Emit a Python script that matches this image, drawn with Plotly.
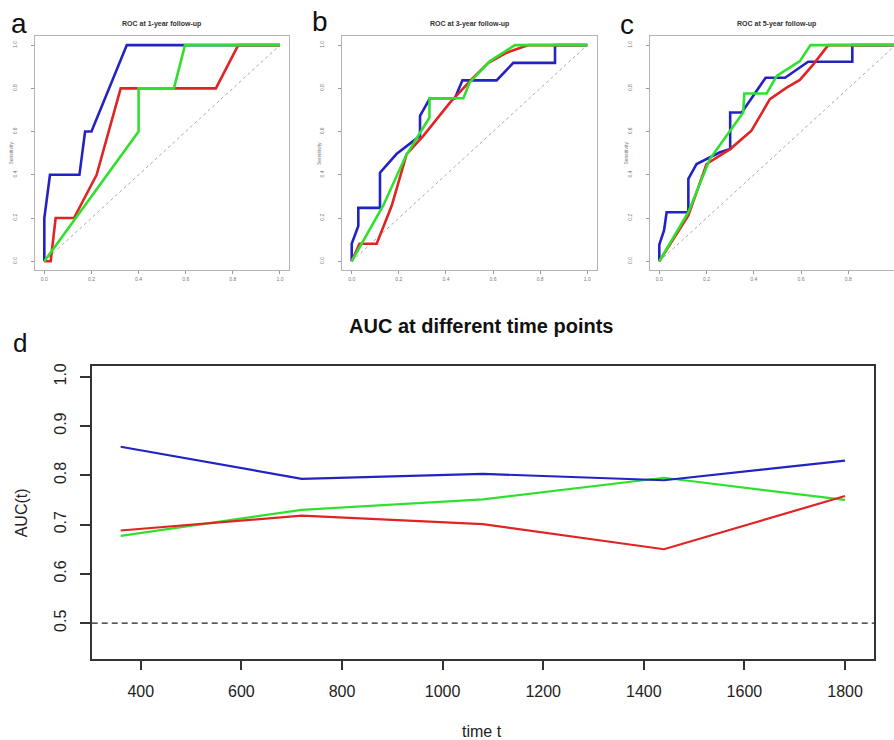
import plotly.graph_objects as go

W, H = 894, 740

# ---------------- data ----------------
roc_titles = ["ROC at 1-year follow-up", "ROC at 3-year follow-up", "ROC at 5-year follow-up"]
panel_letters = ["a", "b", "c", "d"]
roc_tickvals = [0.0, 0.2, 0.4, 0.6, 0.8, 1.0]
roc_ticktext = ["0.0", "0.2", "0.4", "0.6", "0.8", "1.0"]

# Panel a (1-year)
a_blue_x = [0, 0, 0.024, 0.149, 0.173, 0.2, 0.35, 1.0]
a_blue_y = [0, 0.2, 0.4, 0.4, 0.6, 0.6, 1.0, 1.0]
a_red_x = [0, 0.027, 0.048, 0.126, 0.222, 0.324, 0.728, 0.823, 1.0]
a_red_y = [0, 0, 0.2, 0.2, 0.4, 0.8, 0.8, 1.0, 1.0]
a_green_x = [0, 0.4, 0.4, 0.55, 0.597, 1.0]
a_green_y = [0, 0.6, 0.8, 0.8, 1.0, 1.0]

# Panel b (3-year)
b_blue_x = [0, 0, 0.028, 0.028, 0.12, 0.12, 0.19, 0.27, 0.29, 0.29, 0.332, 0.438, 0.47, 0.615, 0.686, 0.863, 0.863, 1.0]
b_blue_y = [0, 0.081, 0.163, 0.247, 0.247, 0.41, 0.496, 0.565, 0.58, 0.673, 0.754, 0.754, 0.837, 0.837, 0.918, 0.918, 1.0, 1.0]
b_red_x = [0, 0.033, 0.106, 0.17, 0.233, 0.304, 0.417, 0.516, 0.58, 0.658, 0.75, 1.0]
b_red_y = [0, 0.081, 0.081, 0.258, 0.496, 0.58, 0.734, 0.85, 0.918, 0.965, 1.0, 1.0]
b_green_x = [0, 0.134, 0.23, 0.29, 0.33, 0.33, 0.474, 0.5, 0.587, 0.693, 1.0]
b_green_y = [0, 0.258, 0.488, 0.596, 0.665, 0.754, 0.754, 0.826, 0.926, 1.0, 1.0]

# Panel c (5-year)
c_blue_x = [0, 0, 0.02, 0.031, 0.123, 0.123, 0.158, 0.214, 0.257, 0.3, 0.3, 0.349, 0.398, 0.45, 0.532, 0.63, 0.817, 0.817, 1.0]
c_blue_y = [0, 0.077, 0.143, 0.227, 0.227, 0.381, 0.45, 0.48, 0.504, 0.519, 0.688, 0.688, 0.765, 0.849, 0.849, 0.923, 0.923, 1.0, 1.0]
c_red_x = [0, 0.123, 0.2, 0.3, 0.39, 0.468, 0.539, 0.595, 0.652, 0.715, 1.0]
c_red_y = [0, 0.212, 0.45, 0.519, 0.604, 0.75, 0.803, 0.839, 0.911, 1.0, 1.0]
c_green_x = [0, 0.123, 0.214, 0.355, 0.36, 0.454, 0.497, 0.595, 0.64, 1.0]
c_green_y = [0, 0.227, 0.473, 0.688, 0.776, 0.776, 0.857, 0.926, 1.0, 1.0]

# Panel d (AUC over time)
auc_title = "AUC at different time points"
time_points = [360, 720, 1080, 1440, 1800]
auc_blue = [0.858, 0.793, 0.803, 0.790, 0.830]
auc_red = [0.688, 0.718, 0.701, 0.650, 0.758]
auc_green = [0.677, 0.730, 0.751, 0.795, 0.750]
auc_xticks = [400, 600, 800, 1000, 1200, 1400, 1600, 1800]
auc_yticks = [0.5, 0.6, 0.7, 0.8, 0.9, 1.0]
auc_yticktext = ["0.5", "0.6", "0.7", "0.8", "0.9", "1.0"]
reference_auc = 0.5

# ---------------- styles ----------------
BLUE = "#2323c4"
RED = "#e02424"
GREEN = "#2fe02f"
FONT = "Liberation Sans, Arial, sans-serif"


def px(x):
    return x / W


def py(y):
    return 1 - y / H


fig = go.Figure()

roc_data = [
    (a_blue_x, a_blue_y, a_red_x, a_red_y, a_green_x, a_green_y),
    (b_blue_x, b_blue_y, b_red_x, b_red_y, b_green_x, b_green_y),
    (c_blue_x, c_blue_y, c_red_x, c_red_y, c_green_x, c_green_y),
]

# pixel geometry of the ROC plot boxes (left, right, x-range max)
roc_boxes = [
    (34.9, 289.4, 1.04),
    (342.3, 596.7, 1.04),
    (649.85, 894.0, 0.9934),
]
roc_title_x = [161.5, 469, 776]
roc_top, roc_bot = 33.6, 268.0

for i, (bx, by, rx, ry, gx, gy) in enumerate(roc_data):
    n = "" if i == 0 else str(i + 1)
    xa, ya = "x" + n, "y" + n
    fig.add_trace(go.Scatter(x=[0, 1], y=[0, 1], mode="lines", xaxis=xa, yaxis=ya,
                             line=dict(color="#a8a8a8", width=1, dash="dot"),
                             showlegend=False, hoverinfo="skip"))
    fig.add_trace(go.Scatter(x=bx, y=by, mode="lines", xaxis=xa, yaxis=ya,
                             line=dict(color=BLUE, width=2.6), showlegend=False))
    fig.add_trace(go.Scatter(x=rx, y=ry, mode="lines", xaxis=xa, yaxis=ya,
                             line=dict(color=RED, width=2.6), showlegend=False))
    fig.add_trace(go.Scatter(x=gx, y=gy, mode="lines", xaxis=xa, yaxis=ya,
                             line=dict(color=GREEN, width=2.6), showlegend=False))

    left, right, xmax = roc_boxes[i]
    fig.layout["xaxis" + n] = dict(
        domain=[px(left), min(px(right), 1.0)], range=[-0.04, xmax], anchor=ya,
        showgrid=False, zeroline=False, showline=True, mirror=True,
        linecolor="#b4b4b4", linewidth=1.4,
        ticks="outside", ticklen=3, tickwidth=1, tickcolor="#999999",
        tickvals=roc_tickvals, ticktext=roc_ticktext,
        tickfont=dict(size=5, color="#777777", family=FONT), ticklabelstandoff=1,
    )
    fig.layout["yaxis" + n] = dict(
        domain=[py(roc_bot), py(roc_top)], range=[-0.04, 1.04], anchor=xa,
        showgrid=False, zeroline=False, showline=True, mirror=(i < 2),
        linecolor="#b4b4b4", linewidth=1.4,
        ticks="outside", ticklen=3, tickwidth=1, tickcolor="#999999",
        tickvals=roc_tickvals, ticktext=roc_ticktext, tickangle=-90,
        tickfont=dict(size=5, color="#777777", family=FONT), ticklabelstandoff=12,
    )

# Panel d
for yv, col in ((auc_green, GREEN), (auc_red, RED), (auc_blue, BLUE)):
    fig.add_trace(go.Scatter(x=time_points, y=yv, mode="lines", xaxis="x4", yaxis="y4",
                             line=dict(color=col, width=2.2), showlegend=False))

fig.add_trace(go.Scatter(x=[302.4, 1857.6], y=[reference_auc, reference_auc], mode="lines",
                         xaxis="x4", yaxis="y4",
                         line=dict(color="#222222", width=1.3, dash="6px,4px"),
                         showlegend=False, hoverinfo="skip"))

fig.layout["xaxis4"] = dict(
    domain=[px(91.7), px(874)], range=[302.4, 1857.6], anchor="y4",
    showgrid=False, zeroline=False, showline=True, mirror=True,
    linecolor="#333333", linewidth=1.6,
    ticks="outside", ticklen=10, tickwidth=1.6, tickcolor="#333333",
    tickvals=auc_xticks, tickfont=dict(size=16, color="#222222", family=FONT),
    ticklabelstandoff=7,
)
fig.layout["yaxis4"] = dict(
    domain=[py(658.3), py(364.4)], range=[0.428, 1.022], anchor="x4",
    showgrid=False, zeroline=False, showline=True, mirror=True,
    linecolor="#333333", linewidth=1.6,
    ticks="outside", ticklen=10, tickwidth=1.6, tickcolor="#333333",
    tickvals=auc_yticks, ticktext=auc_yticktext, tickangle=-90,
    tickfont=dict(size=16, color="#222222", family=FONT), ticklabelstandoff=8,
)

ann = []
# panel letters
letter_pos = [(19, 21), (320, 19), (627, 22), (20, 341)]
letter_size = [28, 28, 28, 26]
for (lx, ly), t, s in zip(letter_pos, panel_letters, letter_size):
    ann.append(dict(x=px(lx), y=py(ly), xref="paper", yref="paper", text=t, showarrow=False,
                    xanchor="center", yanchor="middle", font=dict(size=s, color="#111111", family=FONT)))

# ROC titles and y-axis titles
for i, t in enumerate(roc_titles):
    left = roc_boxes[i][0]
    ann.append(dict(x=px(roc_title_x[i]), y=py(20.7), xref="paper", yref="paper", text="<b>%s</b>" % t,
                    showarrow=False, xanchor="center", yanchor="middle",
                    font=dict(size=7, color="#333333", family=FONT)))
    ann.append(dict(x=px(left - 23.5), y=py(150.8), xref="paper", yref="paper", text="Sensitivity",
                    showarrow=False, xanchor="center", yanchor="middle", textangle=-90,
                    font=dict(size=5, color="#777777", family=FONT)))

# panel d texts
ann.append(dict(x=px(481), y=py(324), xref="paper", yref="paper", text="<b>%s</b>" % auc_title,
                showarrow=False, xanchor="center", yanchor="middle",
                font=dict(size=20, color="#111111", family=FONT)))
ann.append(dict(x=px(481.7), y=py(731), xref="paper", yref="paper", text="time t",
                showarrow=False, xanchor="center", yanchor="middle",
                font=dict(size=16, color="#222222", family=FONT)))
ann.append(dict(x=px(21.7), y=py(511.7), xref="paper", yref="paper", text="AUC(t)",
                showarrow=False, xanchor="center", yanchor="middle", textangle=-90,
                font=dict(size=16, color="#222222", family=FONT)))

fig.update_layout(
    width=W, height=H, margin=dict(l=0, r=0, t=0, b=0),
    paper_bgcolor="white", plot_bgcolor="white",
    annotations=ann, showlegend=False,
    font=dict(family=FONT),
)

fig.write_html("out.html", config={"displayModeBar": False},
               post_script="document.body.style.margin='0px';document.body.style.overflow='hidden';")
